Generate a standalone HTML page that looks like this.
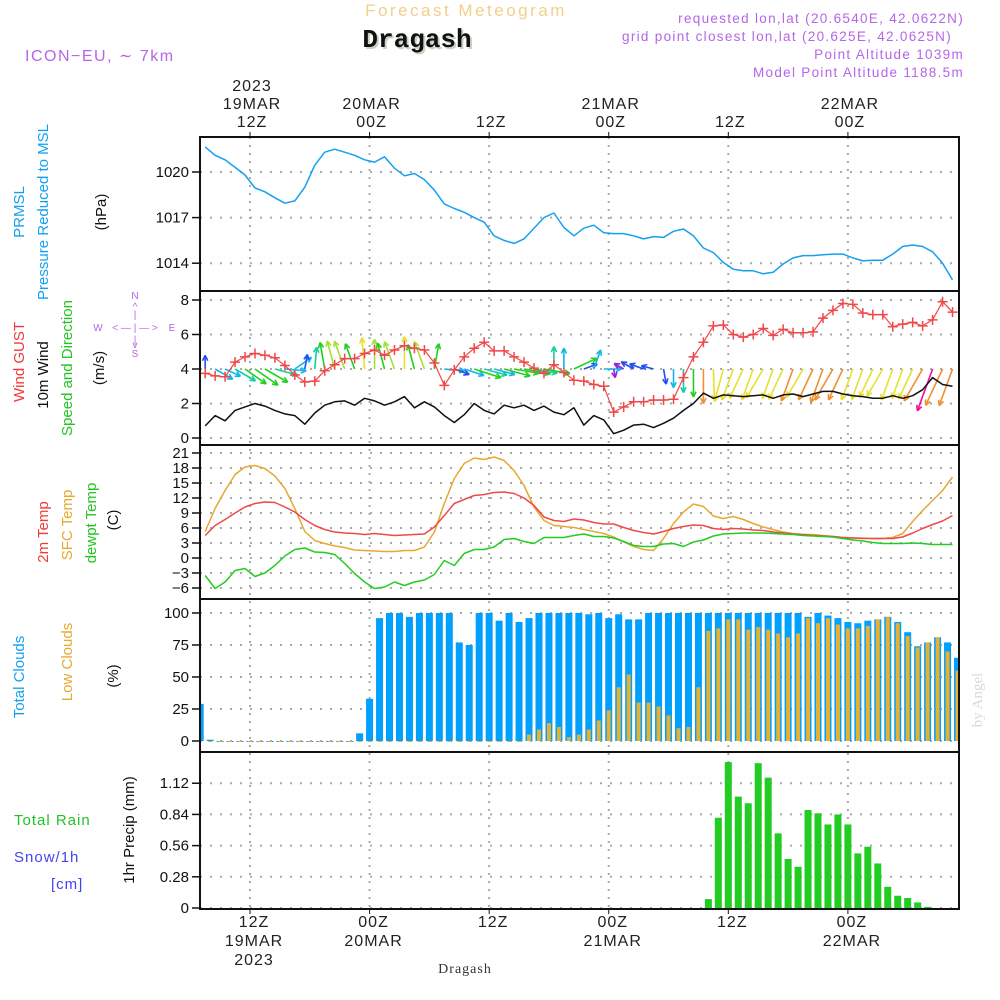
<!DOCTYPE html>
<html><head><meta charset="utf-8"><title>Dragash Meteogram</title>
<style>
html,body{margin:0;padding:0;background:#fff;}
svg{display:block;font-family:"Liberation Sans",sans-serif;}
</style></head>
<body>
<svg id="chart" width="1000" height="1000" viewBox="0 0 1000 1000" xmlns="http://www.w3.org/2000/svg">
<g>
<text x="466" y="16" font-size="17" fill="#f3cf8a" text-anchor="middle" letter-spacing="2.5">Forecast Meteogram</text>
<text x="419" y="49" font-size="26" font-weight="bold" font-family="Liberation Mono,monospace" fill="#c8d4c0" text-anchor="middle">Dragash</text>
<text x="417" y="47" font-size="26" font-weight="bold" font-family="Liberation Mono,monospace" fill="#111" text-anchor="middle">Dragash</text>
<text x="25" y="61" font-size="16" fill="#b565e8" letter-spacing="1.5">ICON−EU, ∼ 7km</text>
<text x="964" y="23" font-size="13.5" fill="#b565e8" text-anchor="end" letter-spacing="1.3">requested lon,lat (20.6540E, 42.0622N)</text>
<text x="952" y="41" font-size="13.5" fill="#b565e8" text-anchor="end" letter-spacing="1.3">grid point closest lon,lat (20.625E, 42.0625N)</text>
<text x="964" y="59" font-size="13.5" fill="#b565e8" text-anchor="end" letter-spacing="1.3">Point Altitude 1039m</text>
<text x="964" y="77" font-size="13.5" fill="#b565e8" text-anchor="end" letter-spacing="1.3">Model Point Altitude 1188.5m</text>
</g>
<g id="grid"></g>
<g id="marks"></g>
<g id="frames"></g>
<g id="axes"></g>
<g font-size="15">
<text transform="translate(24,212) rotate(-90)" text-anchor="middle" fill="#14a0f0">PRMSL</text>
<text transform="translate(48,212) rotate(-90)" text-anchor="middle" fill="#14a0f0">Pressure Reduced to MSL</text>
<text transform="translate(106,212) rotate(-90)" text-anchor="middle" fill="#111">(hPa)</text>
<text transform="translate(24,362) rotate(-90)" text-anchor="middle" fill="#f03a3a">Wind GUST</text>
<text transform="translate(48,375) rotate(-90)" text-anchor="middle" fill="#111">10m Wind</text>
<text transform="translate(72,368) rotate(-90)" text-anchor="middle" fill="#22c422">Speed and Direction</text>
<text transform="translate(104,368) rotate(-90)" text-anchor="middle" fill="#111">(m/s)</text>
<g font-size="10" fill="#b565e8" text-anchor="middle">
<text x="135" y="299">N</text><text x="135" y="310">^</text><text x="135" y="318">|</text>
<text x="98" y="331">W</text><text x="135" y="331">&lt; — | — &gt;</text><text x="172" y="331">E</text>
<text x="135" y="343">|</text><text x="135" y="348">v</text><text x="135" y="357">S</text>
</g>
<text transform="translate(48,532) rotate(-90)" text-anchor="middle" fill="#f03a3a">2m Temp</text>
<text transform="translate(72,525) rotate(-90)" text-anchor="middle" fill="#e8a830">SFC Temp</text>
<text transform="translate(96,523) rotate(-90)" text-anchor="middle" fill="#22c422">dewpt Temp</text>
<text transform="translate(118,520) rotate(-90)" text-anchor="middle" fill="#111">(C)</text>
<text transform="translate(24,677) rotate(-90)" text-anchor="middle" fill="#14a0f0">Total Clouds</text>
<text transform="translate(72,662) rotate(-90)" text-anchor="middle" fill="#e8a830">Low Clouds</text>
<text transform="translate(118,676) rotate(-90)" text-anchor="middle" fill="#111">(%)</text>
<text transform="translate(134,830) rotate(-90)" text-anchor="middle" fill="#111">1hr Precip (mm)</text>
<text x="14" y="825" fill="#22c422" letter-spacing="1">Total   Rain</text>
<text x="14" y="862" fill="#4444ee" letter-spacing="1">Snow/1h</text>
<text x="51" y="889" fill="#4444ee" letter-spacing="1">[cm]</text>
</g>
<text transform="translate(982,700) rotate(-90)" text-anchor="middle" font-size="15" font-family="Liberation Serif,serif" fill="#d4dcd4">by Angel</text>
<text x="465" y="973" font-size="14" font-family="Liberation Serif,serif" fill="#333" text-anchor="middle" letter-spacing="1">Dragash</text>
</svg>
<script>
// ---- data ----
var pressure = [1021.65,1021.1,1020.8,1020.3,1019.8,1018.95,1018.7,1018.3,1017.95,1018.1,1019,1020.45,1021.3,1021.5,1021.3,1021.1,1020.8,1020.65,1021,1020.25,1019.75,1019.9,1019.5,1018.8,1017.9,1017.6,1017.35,1017,1016.7,1015.8,1015.5,1015.3,1015.6,1016.3,1017,1017.3,1016.35,1015.8,1016.3,1016.5,1016,1015.95,1015.95,1015.8,1015.6,1015.75,1015.7,1016.1,1016.25,1015.8,1015,1014.7,1014.05,1013.6,1013.5,1013.5,1013.3,1013.4,1013.95,1014.35,1014.5,1014.5,1014.55,1014.6,1014.6,1014.35,1014.15,1014.2,1014.2,1014.6,1015.1,1015.2,1015.1,1014.75,1014,1012.9];
var windSpeed = [0.7,1.3,1.0,1.6,1.8,2.0,1.85,1.6,1.4,1.3,0.8,1.45,1.9,2.1,2.15,1.9,2.3,2.15,1.9,2.1,2.4,1.75,2.1,1.8,1.3,0.9,1.35,2.0,1.6,1.4,1.9,1.75,1.9,1.6,1.85,1.5,1.35,1.75,0.75,1.3,1.05,0.25,0.45,0.75,0.8,0.6,0.85,1.15,1.6,2.0,2.6,2.3,2.5,2.45,2.4,2.45,2.5,2.3,2.5,2.55,2.4,2.55,2.7,2.7,2.55,2.45,2.4,2.3,2.3,2.45,2.3,2.45,2.8,3.5,3.1,3.0];
var windGust = [3.75,3.6,3.55,4.4,4.7,4.9,4.8,4.65,4.2,3.65,3.25,3.3,3.9,4.25,4.6,4.6,4.9,5.1,4.8,5.1,5.35,5.2,5.1,4.35,3.05,3.95,4.7,5.2,5.55,5.05,5.05,4.7,4.4,4.05,3.75,4.25,3.8,3.35,3.3,3.1,3.0,1.5,1.8,2.1,2.1,2.2,2.2,2.25,3.5,4.7,5.55,6.5,6.55,6.0,5.85,6.0,6.35,5.95,6.3,6.1,6.1,6.15,6.95,7.4,7.8,7.75,7.25,7.15,7.15,6.45,6.6,6.7,6.5,6.85,7.9,7.3];
var windDir = [0,120,115,120,125,125,120,105,95,55,10,5,350,345,340,340,355,0,345,340,0,345,340,10,95,110,108,108,105,105,105,100,100,100,100,0,0,65,70,20,90,170,300,300,290,285,170,180,180,180,180,178,195,200,205,200,210,200,205,200,210,205,200,210,205,200,200,205,210,200,200,205,210,200,205,200];
var temp2m = [4.5,6.5,7.7,9,10.2,10.9,11.2,11.1,10.2,9.2,7.7,6.5,5.7,5.2,5.0,4.9,4.7,4.9,4.7,4.5,4.6,4.7,4.8,6.2,8.5,10.9,11.7,12.5,12.7,13.1,13.2,12.9,12,10.5,8.2,7.5,7.3,7.8,7.6,7.1,6.8,6.8,6.1,5.5,5.1,4.8,5.3,5.9,6.3,6.6,6.5,5.9,5.7,5.9,5.8,5.6,5.5,5.2,5.0,4.8,4.7,4.5,4.4,4.3,4.1,4.0,3.9,3.9,3.9,3.9,4.2,5.0,5.9,6.7,7.4,8.5];
var tempSfc = [5.3,9.9,13.5,16.7,18.2,18.5,17.9,16.4,13.9,9.9,5.3,3.5,2.9,2.4,2.1,1.6,1.5,1.4,1.3,1.3,1.5,1.5,2.2,5.2,10.9,15.9,18.9,20,19.7,20.2,19.5,17.5,14.5,10.2,7.5,6.5,6.3,6.1,5.7,5.3,4.9,4.2,3.2,2.3,1.7,1.5,3.9,6.9,9.2,10.8,10.3,8.4,7.9,8.3,7.7,6.9,6.2,5.7,5.2,4.9,4.7,4.7,4.5,4.3,4.1,4.0,4.0,3.9,3.9,4.1,4.9,7.3,9.5,11.5,13.5,16.2];
var dewpoint = [-3.5,-6.1,-4.8,-2.5,-2.1,-3.7,-3,-1.5,0.4,1.7,2,1.2,1.1,0.7,-1.1,-3.1,-4.8,-6.1,-5.8,-4.8,-5.5,-4.8,-4.4,-3.3,-0.5,-1.5,0.9,1.7,1.7,2.2,3.7,3.9,3.3,2.9,4.1,4.1,4.1,4.5,4.8,4.3,4.3,4.0,3.3,2.5,2.3,2.3,2.8,2.9,2.3,3.2,3.6,4.4,4.8,4.9,5.0,5.0,5.0,4.9,4.8,4.7,4.5,4.4,4.3,4.2,3.9,3.6,3.4,3.1,2.9,2.9,2.9,3.0,2.9,2.7,2.7,2.7];
var totalClouds = [29,1,0,0,0,0,0,0,0,0,0,0,0,0,0,0,6,33,96,100,100,97,100,100,100,100,77,75,100,100,94,100,93,96,100,100,100,100,100,99,100,96,99,95,95,100,100,100,100,100,100,100,100,100,100,100,100,100,100,100,100,97,100,98,96,93,92,94,95,97,93,85,74,77,81,77,65];
var lowClouds = [0,0,0,0,0,0,0,0,0,0,0,0,0,0,0,0,0,0,0,0,0,0,0,0,0,0,0,0,0,0,0,0,0,5,9,14,11,3,5,9,16,24,42,52,30,30,27,20,10,11,42,86,88,95,95,87,89,87,84,81,84,96,92,96,91,88,88,90,95,97,92,82,73,77,81,70,55];
var precip = [0,0,0,0,0,0,0,0,0,0,0,0,0,0,0,0,0,0,0,0,0,0,0,0,0,0,0,0,0,0,0,0,0,0,0,0,0,0,0,0,0,0,0,0,0,0,0,0,0,0,0,0.08,0.81,1.31,1.0,0.94,1.30,1.17,0.67,0.44,0.37,0.88,0.85,0.75,0.84,0.75,0.49,0.55,0.40,0.19,0.11,0.09,0.05,0.01,0,0,0];
var pressTicks = [1014,1017,1020];
var windTicks = [0,2,4,6,8];
var tempTicks = [-6,-3,0,3,6,9,12,15,18,21];
var cloudTicks = [0,25,50,75,100];
var precipTicks = [0,0.28,0.56,0.84,1.12];
var dayHours = [12,24,36,48,60,72];
var topLabels = [["2023","19MAR","12Z"],["","20MAR","00Z"],["","","12Z"],["","21MAR","00Z"],["","","12Z"],["","22MAR","00Z"]];
var bottomLabels = [["12Z","19MAR","2023"],["00Z","20MAR",""],["12Z","",""],["00Z","21MAR",""],["12Z","",""],["00Z","22MAR",""]];
var lineStart = 7.5, barStart = 7;

// ---- scales ----
var L = 200, R = 959;
function X(t){ return 250 + (t-12)*9.965; }
function yP(v){ return 172 + (1020-v)*15.2; }
function yW(v){ return 438 - v*17.25; }
function yT(v){ return 453 + (21-v)*5; }
function yC(v){ return 741 - v*1.28; }
function yR(v){ return 908 - v*111.4; }
var panels = [[137,291],[291,445],[445,599],[599,752],[752,909]];
var NS = "http://www.w3.org/2000/svg";
function mk(tag, attrs, parent){ var e=document.createElementNS(NS,tag); for(var k in attrs) e.setAttribute(k,attrs[k]); parent.appendChild(e); return e; }
var grid = document.getElementById('grid'), marks = document.getElementById('marks'), frames = document.getElementById('frames'), axes = document.getElementById('axes');

function hgrid(ticks, fy, fmt, name){
  ticks.forEach(function(v){
    var y = fy(v);
    var g = mk('line',{x1:L,x2:R,y1:y,y2:y,stroke:'#aaa','stroke-width':2,'stroke-dasharray':'2 8'},grid);
    
    
    var tk = mk('line',{x1:192,x2:L,y1:y,y2:y,stroke:'#111','stroke-width':1.5},axes);
    
    
    var tx = mk('text',{x:189,y:y+5,'font-size':15,'text-anchor':'end',fill:'#111'},axes);
    tx.textContent = fmt(v);
    
    
  });
}
hgrid(pressTicks, yP, function(v){return String(v);}, 'pressure');
hgrid(windTicks, yW, function(v){return String(v);}, 'wind');
hgrid(tempTicks, yT, function(v){return v<0?'−'+(-v):String(v);}, 'temp');
hgrid(cloudTicks, yC, function(v){return String(v);}, 'cloud');
hgrid(precipTicks, yR, function(v){return v===0?'0':v.toFixed(2);}, 'precip');
dayHours.forEach(function(h,k){
  var x = X(h);
  var v = mk('line',{x1:x,x2:x,y1:137,y2:909,stroke:'#aaa','stroke-width':2,'stroke-dasharray':'2 6'},grid);
  
  
  var t1 = mk('line',{x1:x,x2:x,y1:132,y2:137,stroke:'#111','stroke-width':1},axes);
  
  
  var t2 = mk('line',{x1:x,x2:x,y1:909,y2:914,stroke:'#111','stroke-width':1},axes);
  
  
  topLabels[k].forEach(function(s,j){
    if(!s) return;
    var tx = mk('text',{x:x+2,y:91+j*18,'font-size':16,'text-anchor':'middle',fill:'#222','letter-spacing':1},axes);
    tx.textContent = s;
    
    
  });
  bottomLabels[k].forEach(function(s,j){
    if(!s) return;
    var tx = mk('text',{x:x+4,y:927+j*19,'font-size':16,'text-anchor':'middle',fill:'#222','letter-spacing':1},axes);
    tx.textContent = s;
    
    
  });
});

function polyline(arr, fy, color, name, w){
  var pts = arr.map(function(v,i){ return X(lineStart+i).toFixed(1)+','+fy(v).toFixed(1); }).join(' ');
  var p = mk('polyline',{points:pts,fill:'none',stroke:color,'stroke-width':w||1.5,'stroke-linejoin':'round'},marks);
  
  
  return p;
}
polyline(pressure, yP, '#14a0f0', 'pressure-line');
function arrowColor(s){
  if(s<0.5) return '#9a20e0'; if(s<1.0) return '#2050f0'; if(s<1.45) return '#10b8e8';
  if(s<1.7) return '#10d0a0'; if(s<2.05) return '#20d020'; if(s<2.3) return '#a8e030';
  if(s<2.55) return '#e8e030'; if(s<3.2) return '#f09030'; return '#f0109a';
}
windDir.forEach(function(d,i){
  var s = windSpeed[i]; var x0 = X(lineStart+i), y0 = yW(4);
  var len = 11*s+6, a = d*Math.PI/180;
  var x1 = x0 + len*Math.sin(a), y1 = y0 - len*Math.cos(a);
  var c = arrowColor(s);
  var g = mk('g',{stroke:c,'stroke-width':1.6,fill:'none'},marks);
  
  
  mk('line',{x1:x0,y1:y0,x2:x1,y2:y1},g);
  var h=6;
  [a+Math.PI-0.45, a+Math.PI+0.45].forEach(function(b){
    mk('line',{x1:x1,y1:y1,x2:x1+h*Math.sin(b),y2:y1-h*Math.cos(b)},g);
  });
});
polyline(windGust, yW, '#f04848', 'gust-line', 1.2);
windGust.forEach(function(v,i){
  var x=X(lineStart+i), y=yW(v);
  var g = mk('path',{d:'M'+(x-5)+' '+y+'h10M'+x+' '+(y-5)+'v10',stroke:'#f04848','stroke-width':1.5},marks);
  
  
});
polyline(windSpeed, yW, '#111', 'wind-speed-line');
polyline(tempSfc, yT, '#e8a830', 'sfc-temp-line');
polyline(temp2m, yT, '#f04848', 'temp-2m-line');
polyline(dewpoint, yT, '#22cc22', 'dewpoint-line');
var clip = mk('clipPath',{id:'plotclip'},marks); mk('rect',{x:L,y:137,width:R-L,height:772},clip);
var cg = mk('g',{'clip-path':'url(#plotclip)'},marks);


totalClouds.forEach(function(v,i){
  var x = X(barStart+i);
  var b = mk('rect',{x:x-3.5,y:yC(v),width:7,height:Math.max(yC(0)-yC(v),1),fill:'#00a0ff'},cg);
  
  
  var lv = lowClouds[i];
  var o = mk('rect',{x:x-2,y:yC(lv),width:4,height:Math.max(yC(0)-yC(lv),1),fill:'#e8b030'},cg);
  
  
});
precip.forEach(function(v,i){
  if(v<=0) return;
  var x = X(barStart+i);
  var b = mk('rect',{x:x-3.5,y:yR(v),width:7,height:yR(0)-yR(v),fill:'#22cc22'},cg);
  
  
});
panels.forEach(function(p,k){
  var r = mk('rect',{x:L,y:p[0],width:R-L,height:p[1]-p[0],fill:'none',stroke:'#111','stroke-width':2},frames);
  
  
});
</script>
</body></html>
